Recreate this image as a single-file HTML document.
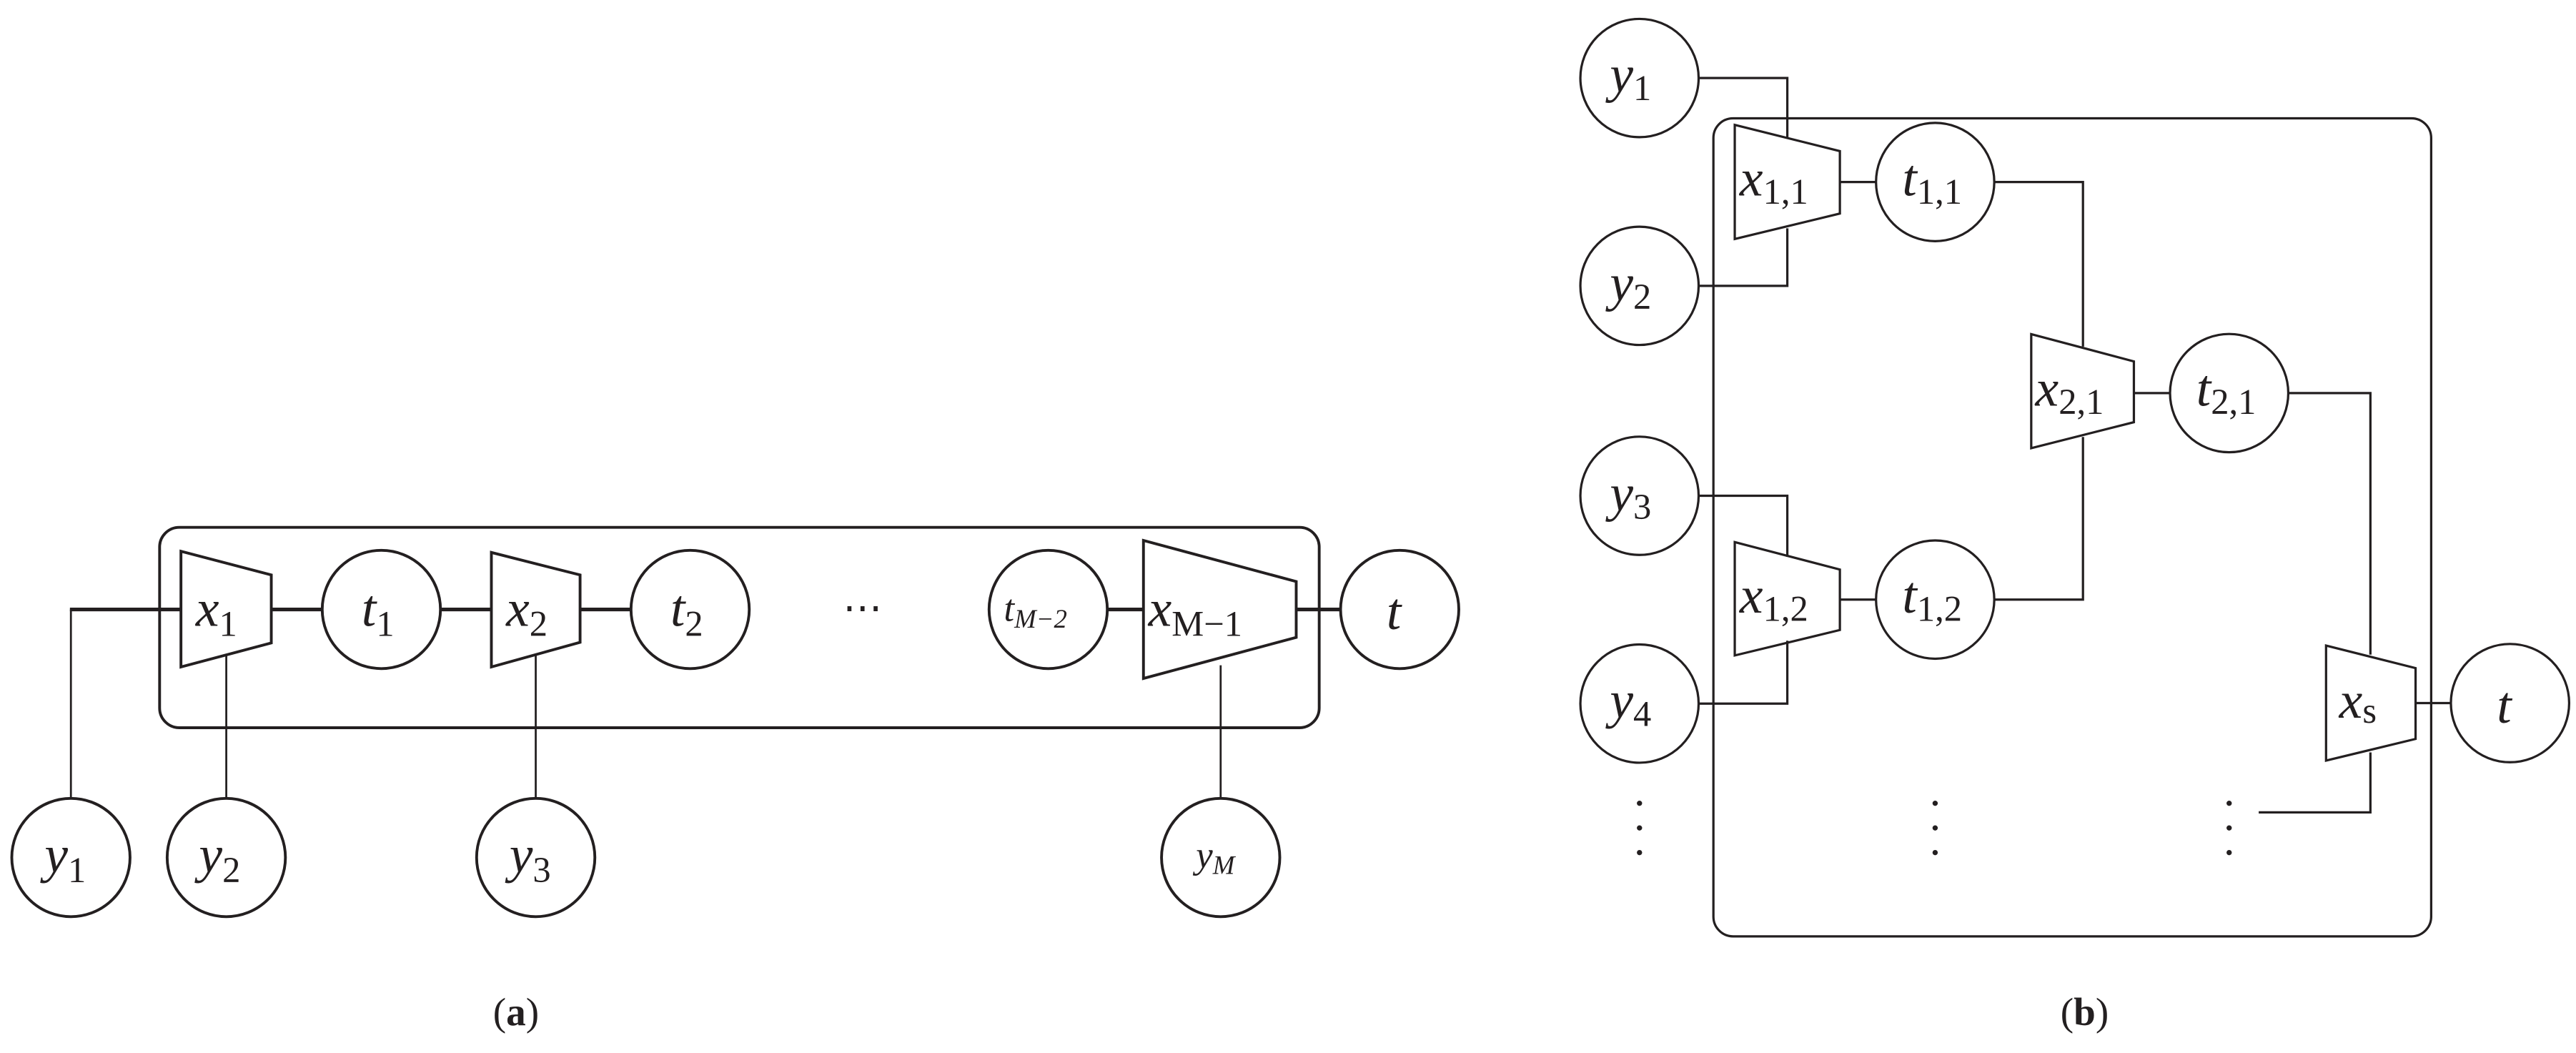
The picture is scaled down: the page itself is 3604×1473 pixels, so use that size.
<!DOCTYPE html>
<html><head><meta charset="utf-8"><style>html,body{margin:0;padding:0;background:#fff}svg{display:block}</style></head><body>
<svg width="3604" height="1473" viewBox="0 0 1568 641" xmlns="http://www.w3.org/2000/svg" font-family="'Liberation Serif', serif">
<g fill="none" stroke="#231f20" stroke-width="1.7">
<rect x="97" y="321" width="706" height="122" rx="12"/>
<polygon points="110,335.6 165,350 165,391.4 110,406" fill="#fff"/>
<polygon points="299,336.3 353,350 353,391 299,406" fill="#fff"/>
<polygon points="696,329 789,354 789,388 696,413" fill="#fff"/>
<circle cx="232" cy="371" r="36"/>
<circle cx="420" cy="371" r="36"/>
<circle cx="638" cy="371" r="36"/>
<circle cx="852" cy="371" r="36"/>
<circle cx="43" cy="522" r="36"/>
<circle cx="137.6" cy="522" r="36"/>
<circle cx="326" cy="522" r="36"/>
<circle cx="743" cy="522" r="36"/>
<path d="M165 371H196M268 371H299M353 371H384M674 371H696M789 371H816M42.4 371H110" stroke-width="2.2"/>
<path d="M43 486V371M137.6 399V486M326 399V486M743 405V486" stroke-width="1.2"/>
</g>
<g fill="#231f20" font-style="italic" font-size="32">
<text x="119" y="381">x<tspan font-size="22" font-style="normal" dy="6">1</tspan></text>
<text x="220" y="381">t<tspan font-size="22" font-style="normal" dy="6">1</tspan></text>
<text x="308" y="381">x<tspan font-size="22" font-style="normal" dy="6">2</tspan></text>
<text x="408" y="381">t<tspan font-size="22" font-style="normal" dy="6">2</tspan></text>
<text x="611" y="378" font-size="23">t<tspan font-size="16" dy="4">M−2</tspan></text>
<text x="699" y="381">x<tspan font-size="22" font-style="normal" dy="6">M−1</tspan></text>
<text x="844" y="383">t</text>
<text x="27" y="531">y<tspan font-size="22" font-style="normal" dy="6">1</tspan></text>
<text x="121" y="531">y<tspan font-size="22" font-style="normal" dy="6">2</tspan></text>
<text x="310" y="531">y<tspan font-size="22" font-style="normal" dy="6">3</tspan></text>
<text x="728" y="528" font-size="23">y<tspan font-size="16" dy="4">M</tspan></text>
</g>
<text x="525" y="378" font-size="24" fill="#231f20" text-anchor="middle">⋯</text>
<text x="314" y="624" font-size="24" fill="#231f20" text-anchor="middle">(<tspan font-weight="bold">a</tspan>)</text>

<g fill="none" stroke="#231f20" stroke-width="1.4">
<rect x="1043" y="72" width="437" height="498" rx="12"/>
<polygon points="1056,76 1120,92 1120,130 1056,145.5" fill="#fff"/>
<polygon points="1056,330 1120,346.7 1120,383.5 1056,399" fill="#fff"/>
<polygon points="1236.5,203.4 1299,220 1299,257 1236.5,272.8" fill="#fff"/>
<polygon points="1416,393 1470.5,406.7 1470.5,449.8 1416,463" fill="#fff"/>
<circle cx="998" cy="47.5" r="36"/>
<circle cx="998" cy="174" r="36"/>
<circle cx="998" cy="301.8" r="36"/>
<circle cx="998" cy="428.3" r="36"/>
<circle cx="1178" cy="110.8" r="36"/>
<circle cx="1178" cy="365" r="36"/>
<circle cx="1357" cy="239.3" r="36"/>
<circle cx="1528" cy="428" r="36"/>
<path d="M1034 47.5H1088V84M1034 174H1088V139M1034 301.8H1088V339M1034 428.3H1088V390M1120 110.8H1142M1120 365H1142M1214 110.8H1268V211M1214 365H1268V266M1299 239.3H1321M1393 239.3H1443V398.5M1470.5 428H1492M1443 458V494.5H1375"/>
</g>
<g fill="#231f20">
<circle cx="998" cy="489" r="1.6"/><circle cx="998" cy="504" r="1.6"/><circle cx="998" cy="519" r="1.6"/>
<circle cx="1178" cy="489" r="1.6"/><circle cx="1178" cy="504" r="1.6"/><circle cx="1178" cy="519" r="1.6"/>
<circle cx="1357" cy="489" r="1.6"/><circle cx="1357" cy="504" r="1.6"/><circle cx="1357" cy="519" r="1.6"/>
</g>
<g fill="#231f20" font-style="italic" font-size="32">
<text x="980" y="56">y<tspan font-size="22" font-style="normal" dy="5">1</tspan></text>
<text x="980" y="183">y<tspan font-size="22" font-style="normal" dy="5">2</tspan></text>
<text x="980" y="311">y<tspan font-size="22" font-style="normal" dy="5">3</tspan></text>
<text x="980" y="437">y<tspan font-size="22" font-style="normal" dy="5">4</tspan></text>
<text x="1059" y="119">x<tspan font-size="22" font-style="normal" dy="5">1,1</tspan></text>
<text x="1059" y="373">x<tspan font-size="22" font-style="normal" dy="5">1,2</tspan></text>
<text x="1239" y="247">x<tspan font-size="22" font-style="normal" dy="5">2,1</tspan></text>
<text x="1158" y="119">t<tspan font-size="22" font-style="normal" dy="5">1,1</tspan></text>
<text x="1158" y="373">t<tspan font-size="22" font-style="normal" dy="5">1,2</tspan></text>
<text x="1337" y="247">t<tspan font-size="22" font-style="normal" dy="5">2,1</tspan></text>
<text x="1424" y="437">x<tspan font-size="22" font-style="normal" dy="3">s</tspan></text>
<text x="1520" y="440">t</text>
</g>
<text x="1269" y="624" font-size="24" fill="#231f20" text-anchor="middle">(<tspan font-weight="bold">b</tspan>)</text>
</svg>
</body></html>
